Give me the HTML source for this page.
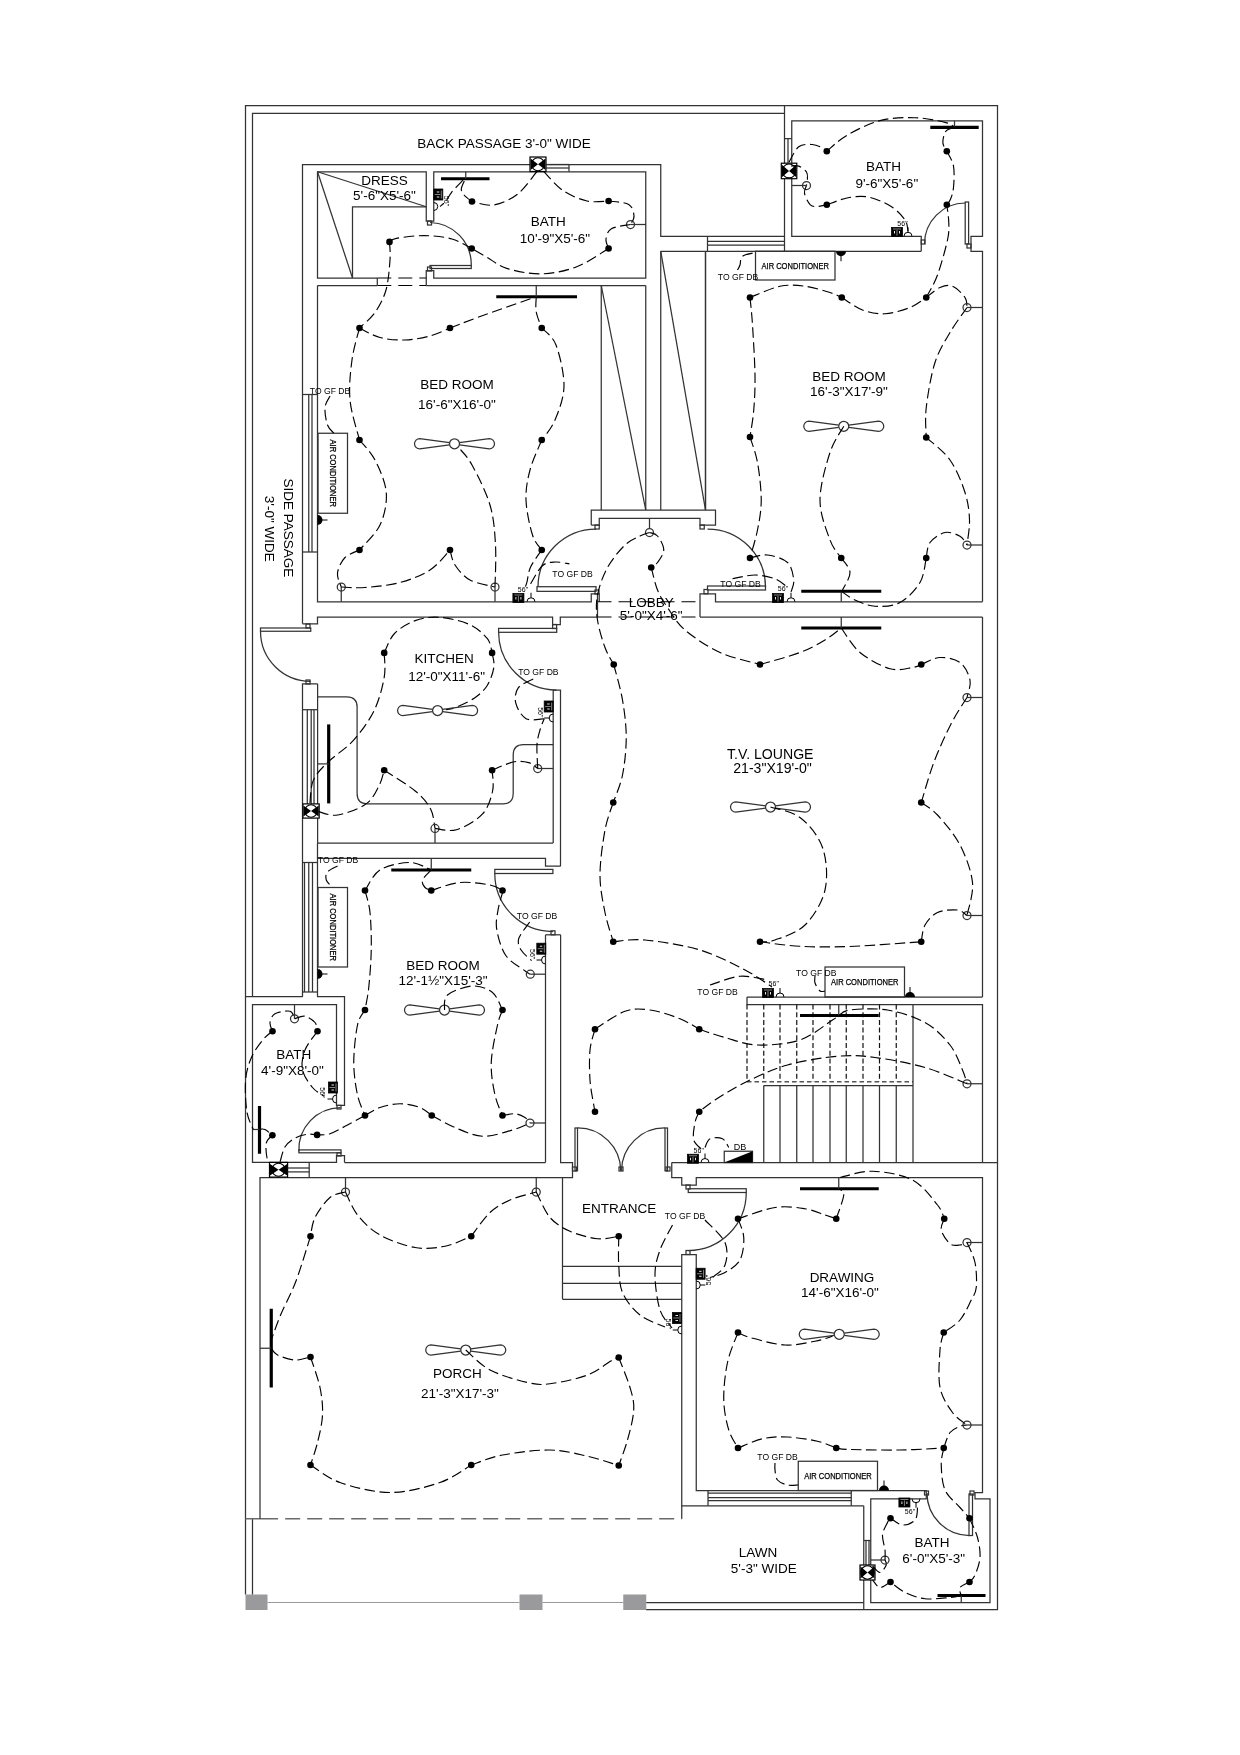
<!DOCTYPE html>
<html><head><meta charset="utf-8"><style>
html,body{margin:0;padding:0;background:#fff;}
svg{display:block;will-change:transform;}
.w{fill:none;stroke:#333;stroke-width:1.25;}
.wf{fill:#fff;stroke:#333;stroke-width:1.25;}
.thin{fill:none;stroke:#000;stroke-width:0.7;}
.g{fill:none;stroke:#9a9a9a;stroke-width:1.1;}
.gd{fill:none;stroke:#6a6a6a;stroke-width:1.4;stroke-dasharray:15 7;}
.dash{fill:none;stroke:#000;stroke-width:1.15;stroke-dasharray:10.5 4.5;}
.od{fill:none;stroke:#000;stroke-width:1.1;stroke-dasharray:14 7;}
.sd{fill:none;stroke:#111;stroke-width:1.2;stroke-dasharray:5 2.7;}
.sdg{fill:none;stroke:#555;stroke-width:1.4;stroke-dasharray:4.5 3;}
.gd0{fill:none;stroke:#6a6a6a;stroke-width:1.4;}
.bar{stroke:#000;stroke-width:3.2;}
.dot{fill:#000;stroke:none;}
.gs{fill:#9a9a9c;stroke:none;}
text{font-family:"Liberation Sans",sans-serif;fill:#000;}
</style></head><body>
<svg width="1240" height="1755" viewBox="0 0 1240 1755">
<rect x="0" y="0" width="1240" height="1755" fill="#fff"/>
<path d="M245.5,1594.5 L245.5,105.5 L997.5,105.5 L997.5,1609.5 L646,1609.5" class="w"/>
<path d="M252.5,997 L252.5,113.25 L784.5,113.25" class="w"/>
<line x1="784.5" y1="105.5" x2="784.5" y2="251.25" class="w"/>
<rect x="245.5" y="1594.5" width="22.0" height="15.5" class="gs"/>
<rect x="519.5" y="1594.5" width="23.0" height="15.5" class="gs"/>
<rect x="623.25" y="1594.5" width="23.0" height="15.5" class="gs"/>
<line x1="267.5" y1="1602.5" x2="519.5" y2="1602.5" class="g"/>
<line x1="542.5" y1="1602.5" x2="623.25" y2="1602.5" class="g"/>
<line x1="646.25" y1="1602.5" x2="863.75" y2="1602.5" class="w"/>
<line x1="252.5" y1="1518.75" x2="252.5" y2="1594.5" class="w"/>
<line x1="245.5" y1="1518.75" x2="278" y2="1518.75" class="gd0"/>
<line x1="285.2" y1="1518.75" x2="681.75" y2="1518.75" class="gd"/>
<path d="M302.5,623.75 L302.5,164.5 L660.75,164.5 L660.75,236.25 L784.5,236.25" class="w"/>
<line x1="707.5" y1="241.25" x2="784.5" y2="241.25" class="w"/>
<line x1="707.5" y1="245" x2="784.5" y2="245" class="w"/>
<line x1="707.5" y1="236.25" x2="707.5" y2="251.25" class="w"/>
<line x1="660.75" y1="251.25" x2="921.25" y2="251.25" class="w"/>
<path d="M377.3,278 L317.5,278 L317.5,171.75 L426.25,171.75 L426.25,221 L433.75,221 L433.75,171.75 L645.75,171.75 L645.75,278 L433.75,278 L433.75,270.5 L426.25,270.5 L426.25,285.5" class="w"/>
<line x1="377.3" y1="278" x2="426.25" y2="278" class="od"/>
<line x1="377.3" y1="285.5" x2="426.25" y2="285.5" class="od"/>
<line x1="317.5" y1="171.75" x2="352.5" y2="278" class="w"/>
<line x1="317.5" y1="171.75" x2="426.25" y2="206.75" class="w"/>
<path d="M426.25,206.75 L352.5,206.75 L352.5,278" class="w"/>
<rect x="430" y="265.5" width="41.25" height="3.0" class="w"/>
<path d="M430,222.5 A42,42 0 0 1 471.25,265.5" class="w"/>
<rect x="427.5" y="221" width="4.0" height="4" class="w"/>
<rect x="427.5" y="267" width="4.0" height="4" class="w"/>
<line x1="317.5" y1="285.5" x2="377.3" y2="285.5" class="w"/>
<line x1="426.25" y1="285.5" x2="645.75" y2="285.5" class="w"/>
<line x1="377.3" y1="278" x2="377.3" y2="285.5" class="w"/>
<path d="M317.5,285.5 L317.5,601.75 L591.25,601.75 L591.25,593.75 L599.25,593.75 L599.25,601.75" class="w"/>
<line x1="645.75" y1="285.5" x2="645.75" y2="510" class="w"/>
<line x1="601.25" y1="285.5" x2="601.25" y2="510" class="w"/>
<line x1="601.25" y1="285.5" x2="645.75" y2="510" class="w"/>
<line x1="302.5" y1="394.5" x2="317.5" y2="394.5" class="w"/>
<line x1="302.5" y1="552" x2="317.5" y2="552" class="w"/>
<line x1="308.75" y1="394.5" x2="308.75" y2="552" class="w"/>
<line x1="312" y1="394.5" x2="312" y2="552" class="w"/>
<rect x="318" y="433.25" width="29.5" height="80.0" class="w"/>
<line x1="660.75" y1="251.25" x2="660.75" y2="510" class="w"/>
<line x1="705.5" y1="251.25" x2="705.5" y2="510" class="w"/>
<line x1="660.75" y1="251.25" x2="705.5" y2="510" class="w"/>
<path d="M591.25,525 L591.25,510 L715.5,510 L715.5,525 L700,525 L700,518.25 L599.25,518.25 L599.25,525 L591.25,525" class="w"/>
<rect x="595" y="525" width="4.25" height="4" class="w"/>
<rect x="700" y="525" width="4.25" height="4" class="w"/>
<line x1="649.5" y1="518.25" x2="649.5" y2="528.5" class="w"/>
<circle cx="649.5" cy="532.5" r="4" class="w"/>
<rect x="537" y="586.7" width="59" height="4.649999999999977" class="w"/>
<path d="M596,529 A58,58 0 0 0 538,587" class="w"/>
<rect x="707.5" y="586" width="58.0" height="4" class="w"/>
<path d="M707.5,529 A58,58 0 0 1 765.5,587" class="w"/>
<line x1="597.5" y1="601.75" x2="700" y2="601.75" class="od"/>
<line x1="597.5" y1="617" x2="700" y2="617" class="od"/>
<line x1="597.5" y1="593.75" x2="597.5" y2="617" class="w"/>
<path d="M700,617 L700,593.75 L715.5,593.75 L715.5,601.75 L982.5,601.75" class="w"/>
<rect x="595" y="590" width="4" height="4" class="w"/>
<rect x="704" y="589.5" width="4" height="4.25" class="w"/>
<text x="651.25" y="607" font-size="13.5" text-anchor="middle" class="t" >LOBBY</text>
<text x="651.25" y="619.5" font-size="13.5" text-anchor="middle" class="t" >5'-0&quot;X4'-6&quot;</text>
<line x1="705.5" y1="251.25" x2="705.5" y2="510" class="w"/>
<path d="M921.25,251.25 L921.25,236.25 L791.75,236.25 L791.75,120.75 L982.5,120.75 L982.5,236.25 L971,236.25 L971,251.25 L982.5,251.25 L982.5,601.75" class="w"/>
<rect x="755.5" y="251.25" width="79.5" height="28.75" class="w"/>
<rect x="965.2" y="202" width="3.3999999999999773" height="42" class="w"/>
<path d="M924.5,244 A41,41 0 0 1 965.2,203" class="w"/>
<rect x="921.25" y="240" width="3.75" height="4" class="w"/>
<rect x="967" y="244" width="4" height="4" class="w"/>
<line x1="784.5" y1="138.6" x2="791.75" y2="138.6" class="w"/>
<line x1="788" y1="138.6" x2="788" y2="163.2" class="w"/>
<rect x="781.3" y="163.2" width="15.5" height="15.5" fill="#fff" stroke="#000" stroke-width="1.2"/>
<ellipse cx="789.05" cy="170.95" rx="6.95" ry="6.95" fill="none" stroke="#000" stroke-width="1.1"/>
<path d="M781.8,164.7 L789.05,170.95 L781.8,177.2 Z M796.3,164.7 L789.05,170.95 L796.3,177.2 Z" fill="#000"/>
<line x1="930.3" y1="127.4" x2="978.7" y2="127.4" class="bar"/>
<line x1="954.5" y1="120.75" x2="954.5" y2="127.4" class="w"/>
<line x1="700" y1="617" x2="982.5" y2="617" class="w"/>
<line x1="982.5" y1="617" x2="982.5" y2="997" class="w"/>
<path d="M560.5,694 L560.5,866.2" class="w"/>
<line x1="560.6" y1="934.8" x2="560.6" y2="1162.5" class="w"/>
<rect x="825" y="967" width="79.5" height="30" class="w"/>
<line x1="747" y1="997" x2="982.5" y2="997" class="w"/>
<path d="M747,997 L747,1004.5 L982.5,1004.5 L982.5,1162.5" class="w"/>
<line x1="747" y1="1004.5" x2="747" y2="1081.75" class="sd"/>
<line x1="763.75" y1="1004.5" x2="763.75" y2="1081.75" class="sd"/>
<line x1="780" y1="1004.5" x2="780" y2="1081.75" class="sd"/>
<line x1="796.75" y1="1004.5" x2="796.75" y2="1081.75" class="sd"/>
<line x1="813" y1="1004.5" x2="813" y2="1081.75" class="sd"/>
<line x1="830" y1="1004.5" x2="830" y2="1081.75" class="sd"/>
<line x1="846.25" y1="1004.5" x2="846.25" y2="1081.75" class="sd"/>
<line x1="863" y1="1004.5" x2="863" y2="1081.75" class="sd"/>
<line x1="879.5" y1="1004.5" x2="879.5" y2="1081.75" class="sd"/>
<line x1="896.25" y1="1004.5" x2="896.25" y2="1081.75" class="sd"/>
<line x1="747" y1="1081.75" x2="913" y2="1081.75" class="sdg"/>
<line x1="913" y1="1004.5" x2="913" y2="1162.5" class="w"/>
<line x1="763.75" y1="1085.5" x2="913" y2="1085.5" class="w"/>
<line x1="763.75" y1="1085.5" x2="763.75" y2="1162.5" class="w"/>
<line x1="780" y1="1085.5" x2="780" y2="1162.5" class="w"/>
<line x1="796.75" y1="1085.5" x2="796.75" y2="1162.5" class="w"/>
<line x1="813" y1="1085.5" x2="813" y2="1162.5" class="w"/>
<line x1="830" y1="1085.5" x2="830" y2="1162.5" class="w"/>
<line x1="846.25" y1="1085.5" x2="846.25" y2="1162.5" class="w"/>
<line x1="863" y1="1085.5" x2="863" y2="1162.5" class="w"/>
<line x1="879.5" y1="1085.5" x2="879.5" y2="1162.5" class="w"/>
<line x1="896.25" y1="1085.5" x2="896.25" y2="1162.5" class="w"/>
<line x1="671.75" y1="1162.5" x2="997.5" y2="1162.5" class="w"/>
<rect x="724.25" y="1151.25" width="28.25" height="11.25" class="w"/>
<path d="M724.25,1162.5 L752.5,1151.25 L752.5,1162.5 Z" class="dot"/>
<text x="740" y="1150" font-size="9" text-anchor="middle" class="t" >DB</text>
<line x1="800" y1="1015.5" x2="878.75" y2="1015.5" class="bar"/>
<line x1="838.75" y1="1004.5" x2="838.75" y2="1015.5" class="w"/>
<path d="M560,1162.5 L572.5,1162.5 L572.5,1170.75" class="w"/>
<path d="M260,1518.75 L260,1177.5 L572.5,1177.5 L572.5,1170.75" class="w"/>
<rect x="575" y="1128" width="2.5" height="42.75" class="w"/>
<path d="M577.5,1128 A43,43 0 0 1 620.75,1170.75" class="w"/>
<rect x="665" y="1128" width="2.5" height="42.75" class="w"/>
<path d="M665,1128 A43,43 0 0 0 621.5,1170.75" class="w"/>
<rect x="572.5" y="1167" width="4.0" height="4" class="w"/>
<rect x="666" y="1167" width="4" height="4" class="w"/>
<rect x="619" y="1167" width="4" height="4" class="w"/>
<path d="M671.75,1162.5 L671.75,1177.5 L681.75,1177.5 L681.75,1185 L696.25,1185 L696.25,1177.5 L982.5,1177.5 L982.5,1492.5 L975,1492.5 L975,1498.75 L990,1498.75 L990,1602.5 L870.75,1602.5 L870.75,1498.75 L926.25,1498.75 L926.25,1490.5 L696.25,1490.5 L696.25,1254.5 L681.75,1254.5 L681.75,1518.75" class="w"/>
<rect x="688.25" y="1188.75" width="58.0" height="3.75" class="w"/>
<path d="M746.25,1192.5 A58,58 0 0 1 688.25,1250.5" class="w"/>
<rect x="686" y="1185" width="4" height="4" class="w"/>
<rect x="686" y="1250.5" width="4" height="4.0" class="w"/>
<text x="619.25" y="1213" font-size="13.5" text-anchor="middle" class="t" >ENTRANCE</text>
<line x1="562.5" y1="1177.5" x2="562.5" y2="1299.25" class="w"/>
<line x1="562.5" y1="1266.25" x2="681.75" y2="1266.25" class="w"/>
<line x1="562.5" y1="1283.25" x2="681.75" y2="1283.25" class="w"/>
<line x1="562.5" y1="1299.25" x2="681.75" y2="1299.25" class="w"/>
<line x1="800" y1="1188.75" x2="878.75" y2="1188.75" class="bar"/>
<line x1="838.75" y1="1177.5" x2="838.75" y2="1188.75" class="w"/>
<line x1="708" y1="1493" x2="851.25" y2="1493" class="w"/>
<line x1="708" y1="1497.5" x2="851.25" y2="1497.5" class="w"/>
<line x1="708" y1="1500.5" x2="851.25" y2="1500.5" class="w"/>
<line x1="708" y1="1490.5" x2="708" y2="1505.75" class="w"/>
<line x1="851.25" y1="1490.5" x2="851.25" y2="1505.75" class="w"/>
<line x1="681.75" y1="1505.75" x2="863.75" y2="1505.75" class="w"/>
<line x1="863.75" y1="1505.75" x2="863.75" y2="1609.5" class="w"/>
<rect x="798.25" y="1461.25" width="79.25" height="29.25" class="w"/>
<text x="842" y="1282" font-size="13.5" text-anchor="middle" class="t" >DRAWING</text>
<text x="840" y="1297" font-size="13.5" text-anchor="middle" class="t" >14'-6&quot;X16'-0&quot;</text>
<rect x="969" y="1494" width="3.5" height="41.5" class="w"/>
<path d="M927,1493 A42.5,42.5 0 0 0 969.5,1535.5" class="w"/>
<rect x="924.5" y="1491" width="4.0" height="4" class="w"/>
<rect x="970" y="1491" width="4" height="4" class="w"/>
<line x1="866" y1="1540.5" x2="866" y2="1565" class="w"/>
<line x1="869" y1="1540.5" x2="869" y2="1565" class="w"/>
<line x1="863.75" y1="1540.5" x2="870.75" y2="1540.5" class="w"/>
<rect x="860" y="1565" width="15" height="15" fill="#fff" stroke="#000" stroke-width="1.2"/>
<ellipse cx="867.5" cy="1572.5" rx="6.7" ry="6.7" fill="none" stroke="#000" stroke-width="1.1"/>
<path d="M860.5,1566.5 L867.5,1572.5 L860.5,1578.5 Z M874.5,1566.5 L867.5,1572.5 L874.5,1578.5 Z" fill="#000"/>
<line x1="937.5" y1="1595.5" x2="985.5" y2="1595.5" class="bar"/>
<line x1="961.25" y1="1595.5" x2="961.25" y2="1602.5" class="w"/>
<text x="932" y="1547" font-size="13.5" text-anchor="middle" class="t" >BATH</text>
<text x="933.75" y="1562.5" font-size="13.5" text-anchor="middle" class="t" >6'-0&quot;X5'-3&quot;</text>
<line x1="271.25" y1="1308.75" x2="271.25" y2="1387.5" class="bar"/>
<line x1="260" y1="1348.25" x2="271.25" y2="1348.25" class="w"/>
<text x="457.5" y="1378" font-size="13.5" text-anchor="middle" class="t" >PORCH</text>
<text x="460" y="1398" font-size="13.5" text-anchor="middle" class="t" >21'-3&quot;X17'-3&quot;</text>
<text x="758" y="1557" font-size="13.5" text-anchor="middle" class="t" >LAWN</text>
<text x="763.75" y="1573" font-size="13.5" text-anchor="middle" class="t" >5'-3&quot; WIDE</text>
<path d="M302.5,996.7 L302.5,683.75 L317.5,683.75" class="w"/>
<path d="M302.5,623.75 L317.5,623.75 L317.5,617 L552.6,617 L552.6,624.5 L560.3,624.5 L560.3,617 L597.5,617" class="w"/>
<rect x="260.5" y="628" width="50.25" height="3.25" class="w"/>
<path d="M260.5,631.25 A50,50 0 0 0 310.75,681.25" class="w"/>
<rect x="306" y="624" width="4" height="4" class="w"/>
<rect x="306" y="680" width="4" height="4" class="w"/>
<line x1="317.6" y1="683.75" x2="317.6" y2="843.1" class="w"/>
<path d="M317.6,696.8 H346.8 Q357.1,696.8 357.1,707 V793.6 Q357.1,803.9 367.4,803.9 H503 Q513.2,803.9 513.2,793.6 V754.8 Q513.2,744.5 523.5,744.5 H553.2" class="w"/>
<line x1="317.6" y1="843.1" x2="553.2" y2="843.1" class="w"/>
<line x1="553.2" y1="694" x2="553.2" y2="843.1" class="w"/>
<path d="M553.2,694 L553.2,690 L560.5,690 L560.5,694" class="w"/>
<rect x="498.6" y="628.4" width="58.10000000000002" height="3.8999999999999773" class="w"/>
<path d="M498.6,632 A58,58 0 0 0 556.5,690" class="w"/>
<rect x="552.6" y="624.5" width="4.0" height="4.0" class="w"/>
<line x1="328.7" y1="724.4" x2="328.7" y2="803.4" class="bar"/>
<line x1="317.6" y1="763.9" x2="328.7" y2="763.9" class="w"/>
<line x1="307.3" y1="709.7" x2="307.3" y2="803.9" class="w"/>
<line x1="311.2" y1="709.7" x2="311.2" y2="803.9" class="w"/>
<line x1="314" y1="709.7" x2="314" y2="803.9" class="w"/>
<line x1="302.5" y1="709.7" x2="317.6" y2="709.7" class="w"/>
<rect x="302.9" y="803.9" width="16.30000000000001" height="14.200000000000045" fill="#fff" stroke="#000" stroke-width="1.2"/>
<ellipse cx="311.04999999999995" cy="811.0" rx="6.300000000000023" ry="6.300000000000023" fill="none" stroke="#000" stroke-width="1.1"/>
<path d="M303.4,805.4 L311.04999999999995,811.0 L303.4,816.6 Z M318.7,805.4 L311.04999999999995,811.0 L318.7,816.6 Z" fill="#000"/>
<text x="444.1" y="663" font-size="13.5" text-anchor="middle" class="t" >KITCHEN</text>
<text x="446.6" y="681" font-size="13.5" text-anchor="middle" class="t" >12'-0&quot;X11'-6&quot;</text>
<path d="M317.5,843.1 L317.5,858.25" class="w"/>
<path d="M317.5,996.7 L317.5,858.25 L545.5,858.25 L545.5,866.2 L560.6,866.2" class="w"/>
<line x1="302.5" y1="862.5" x2="317.5" y2="862.5" class="w"/>
<line x1="302.5" y1="992" x2="317.5" y2="992" class="w"/>
<line x1="304.5" y1="862.5" x2="304.5" y2="992" class="w"/>
<line x1="308.75" y1="862.5" x2="308.75" y2="992" class="w"/>
<line x1="312.5" y1="862.5" x2="312.5" y2="992" class="w"/>
<rect x="318" y="887.5" width="29.5" height="79.5" class="w"/>
<rect x="494.8" y="869.4" width="58.099999999999966" height="4.100000000000023" class="w"/>
<path d="M494.8,873.5 A58,58 0 0 0 552.9,931.5" class="w"/>
<rect x="551" y="930.8" width="4" height="4.0" class="w"/>
<line x1="545.5" y1="934.8" x2="560.6" y2="934.8" class="w"/>
<line x1="545.5" y1="934.8" x2="545.5" y2="1162.5" class="w"/>
<line x1="344.5" y1="1162.5" x2="545.5" y2="1162.5" class="w"/>
<line x1="391.25" y1="870" x2="471.25" y2="870" class="bar"/>
<line x1="431.25" y1="858.25" x2="431.25" y2="870" class="w"/>
<text x="443" y="970" font-size="13.5" text-anchor="middle" class="t" >BED ROOM</text>
<text x="443" y="985" font-size="13.5" text-anchor="middle" class="t" >12'-1½&quot;X15'-3&quot;</text>
<path d="M245.5,996.7 L302.7,996.7" class="w"/>
<path d="M317.1,996.7 L344.5,996.7 L344.5,1105.4 L336.5,1105.4 L336.5,1004.7 L252.5,1004.7 L252.5,1162.4 L336.5,1162.4 L336.5,1155.5 L344.5,1155.5 L344.5,1162.4" class="w"/>
<rect x="298.9" y="1149.9" width="42.10000000000002" height="2.8999999999998636" class="w"/>
<path d="M340.3,1107.6 A42,42 0 0 0 298.9,1151.2" class="w"/>
<rect x="337" y="1105.4" width="4" height="3.599999999999909" class="w"/>
<rect x="337" y="1152.8" width="4" height="3.2000000000000455" class="w"/>
<rect x="269.5" y="1162.4" width="18.100000000000023" height="14.699999999999818" fill="#fff" stroke="#000" stroke-width="1.2"/>
<ellipse cx="278.55" cy="1169.75" rx="6.549999999999909" ry="6.549999999999909" fill="none" stroke="#000" stroke-width="1.1"/>
<path d="M270.0,1163.9 L278.55,1169.75 L270.0,1175.6 Z M287.1,1163.9 L278.55,1169.75 L287.1,1175.6 Z" fill="#000"/>
<line x1="287.6" y1="1168" x2="309.2" y2="1168" class="w"/>
<line x1="287.6" y1="1171.9" x2="309.2" y2="1171.9" class="w"/>
<line x1="309.2" y1="1162.4" x2="309.2" y2="1177.1" class="w"/>
<line x1="259.5" y1="1106" x2="259.5" y2="1153.75" class="bar"/>
<line x1="252.5" y1="1129.5" x2="259.5" y2="1129.5" class="w"/>
<text x="293.75" y="1058.5" font-size="13.5" text-anchor="middle" class="t" >BATH</text>
<text x="292.5" y="1075" font-size="13.5" text-anchor="middle" class="t" >4'-9&quot;X8'-0&quot;</text>
<text x="504" y="148" font-size="13.5" text-anchor="middle" class="t" >BACK PASSAGE 3'-0&quot; WIDE</text>
<text x="384.5" y="185" font-size="13.5" text-anchor="middle" class="t" >DRESS</text>
<text x="384.5" y="200" font-size="13.5" text-anchor="middle" class="t" >5'-6&quot;X5'-6&quot;</text>
<text x="548.3" y="225.5" font-size="13.5" text-anchor="middle" class="t" >BATH</text>
<text x="555" y="242.5" font-size="13.5" text-anchor="middle" class="t" >10'-9&quot;X5'-6&quot;</text>
<text x="457" y="389" font-size="13.5" text-anchor="middle" class="t" >BED ROOM</text>
<text x="457" y="409" font-size="13.5" text-anchor="middle" class="t" >16'-6&quot;X16'-0&quot;</text>
<text x="849" y="381" font-size="13.5" text-anchor="middle" class="t" >BED ROOM</text>
<text x="849" y="395.5" font-size="13.5" text-anchor="middle" class="t" >16'-3&quot;X17'-9&quot;</text>
<text x="883.5" y="171" font-size="13.5" text-anchor="middle" class="t" >BATH</text>
<text x="886.8" y="188" font-size="13.5" text-anchor="middle" class="t" >9'-6&quot;X5'-6&quot;</text>
<text x="770.3" y="759" font-size="14.1" text-anchor="middle" class="t" >T.V. LOUNGE</text>
<text x="772.5" y="773" font-size="14.1" text-anchor="middle" class="t" >21-3&quot;X19'-0&quot;</text>
<text x="289" y="528" font-size="13.5" text-anchor="middle" transform="rotate(90 289 528)" dy="5">SIDE PASSAGE</text>
<text x="270" y="528.75" font-size="13.5" text-anchor="middle" transform="rotate(90 270 528.75)" dy="5">3'-0" WIDE</text>
<rect x="530" y="157" width="16" height="14.5" fill="#fff" stroke="#000" stroke-width="1.2"/>
<ellipse cx="538.0" cy="164.25" rx="6.45" ry="6.45" fill="none" stroke="#000" stroke-width="1.1"/>
<path d="M530.5,158.5 L538.0,164.25 L530.5,170.0 Z M545.5,158.5 L538.0,164.25 L545.5,170.0 Z" fill="#000"/>
<line x1="546" y1="164.5" x2="569" y2="164.5" class="w"/>
<line x1="546" y1="168" x2="569" y2="168" class="w"/>
<line x1="569" y1="164.5" x2="569" y2="171.75" class="w"/>
<path d="M536.9,171.5 C533.7,175.2 525.0,188.4 517.8,194 C510.6,199.6 501.1,203.8 493.5,205 C485.9,206.2 475.6,202.1 472,201.5" class="dash"/>
<path d="M472,201.5 C470.8,200.5 466.3,197.6 464.5,195.5 C462.7,193.4 461.2,191.7 461.3,189 C461.4,186.3 464.4,181.0 465,179.4" class="dash"/>
<line x1="441" y1="178.75" x2="489.5" y2="178.75" class="bar"/>
<line x1="465.75" y1="171.75" x2="465.75" y2="178.75" class="w"/>
<path d="M463,180.2 C461.1,182.2 454.4,188.8 451.6,192.3 C448.8,195.8 447.9,198.6 446,201 C444.1,203.4 441.0,205.6 440,206.5" class="dash"/>
<path d="M543.8,171.5 C547.0,174.7 555.7,185.6 562.9,190.5 C570.1,195.4 579.4,199.2 587,201 C594.6,202.8 605.0,201.0 608.6,201" class="dash"/>
<path d="M608.6,201 C612.0,201.6 624.5,201.9 628.7,204.4 C632.9,206.9 633.7,212.7 634,216 C634.3,219.3 631.1,223.1 630.5,224.5" class="dash"/>
<circle cx="630.5" cy="224.5" r="4" class="w"/>
<line x1="630.5" y1="224.5" x2="646" y2="224.5" class="w"/>
<path d="M630.5,224.5 C627.3,225.2 615.5,226.3 611.4,228.7 C607.3,231.1 606.5,235.7 606,239 C605.5,242.3 608.2,246.9 608.6,248.5" class="dash"/>
<path d="M608.6,248.5 C603.3,251.6 587.8,262.6 576.7,266.8 C565.6,271.0 553.5,273.5 542,273.8 C530.5,274.1 516.6,271.4 507.4,268.6 C498.2,265.8 492.6,260.4 486.6,257 C480.7,253.7 474.2,249.9 471.7,248.5" class="dash"/>
<path d="M471.7,248.5 C468.4,246.9 459.9,241.2 452,239 C444.1,236.8 433.3,235.7 424,235.6 C414.7,235.5 402.1,237.3 396.4,238.4 C390.6,239.5 390.6,241.3 389.5,241.9" class="dash"/>
<path d="M389.5,241.9 C389.6,244.9 390.6,252.0 390,260 C389.4,268.0 388.5,281.2 386,290 C383.5,298.8 379.4,306.2 375,312.5 C370.6,318.8 362.1,325.4 359.5,328" class="dash"/>
<circle cx="472" cy="201.5" r="3.3" class="dot"/>
<circle cx="608.6" cy="201" r="3.3" class="dot"/>
<circle cx="608.6" cy="248.5" r="3.3" class="dot"/>
<circle cx="471.7" cy="248.5" r="3.3" class="dot"/>
<circle cx="389.5" cy="241.9" r="3.3" class="dot"/>
<path d="M359.5,328 C362.9,329.6 372.4,335.5 380,337.5 C387.6,339.5 396.7,340.2 405,340 C413.3,339.8 422.5,338.0 430,336 C437.5,334.0 446.7,329.3 450,328" class="dash"/>
<path d="M450,328 C454.6,326.2 463.1,322.7 477.5,317.5 C491.9,312.3 526.5,300.2 536.25,296.75" class="dash"/>
<line x1="496.25" y1="296.75" x2="577" y2="296.75" class="bar"/>
<line x1="536.25" y1="285.5" x2="536.25" y2="296.75" class="w"/>
<path d="M536.25,296.75 C536.2,299.3 535.3,306.8 536.25,312 C537.2,317.2 540.8,325.3 541.75,328" class="dash"/>
<path d="M541.75,328 C544.1,330.8 552.3,335.3 556,345 C559.7,354.7 564.2,373.5 564,386 C563.8,398.5 558.7,411.0 555,420 C551.3,429.0 544.0,436.7 541.75,440" class="dash"/>
<path d="M359.5,328 C358.2,333.3 353.6,348.0 352,360 C350.4,372.0 348.8,386.7 350,400 C351.2,413.3 357.9,433.3 359.5,440" class="dash"/>
<path d="M330,396 C329.2,397.9 325.4,402.7 325,407.5 C324.6,412.3 326.0,420.7 327.5,425 C329.0,429.3 332.9,431.9 334,433.25" class="dash"/>
<path d="M359.5,440 C362.1,443.3 370.5,451.2 375,460 C379.5,468.8 385.4,481.7 386.25,492.5 C387.1,503.3 384.5,515.4 380,525 C375.5,534.6 362.9,545.8 359.5,550" class="dash"/>
<path d="M359.5,550 C357.1,551.2 348.7,553.7 345,557.5 C341.3,561.3 338.1,568.1 337.5,573 C336.9,577.9 340.6,584.7 341.25,587" class="dash"/>
<circle cx="341.25" cy="587" r="4" class="w"/>
<line x1="341.25" y1="587" x2="341.25" y2="601.75" class="w"/>
<path d="M341.25,587 C345.2,587.1 355.2,588.2 365,587.5 C374.8,586.8 389.2,585.4 400,582.5 C410.8,579.6 421.7,575.4 430,570 C438.3,564.6 446.7,553.3 450,550" class="dash"/>
<path d="M450,550 C450.8,552.5 451.7,560.0 455,565 C458.3,570.0 463.3,576.3 470,580 C476.7,583.7 490.8,585.8 495,587" class="dash"/>
<circle cx="495" cy="587" r="4" class="w"/>
<line x1="495" y1="587" x2="495" y2="601.75" class="w"/>
<path d="M495,587 C495.1,580.0 496.3,558.7 495.5,545 C494.7,531.3 493.9,518.3 490,505 C486.1,491.7 477.2,474.5 472,465 C466.8,455.5 461.2,450.8 459,448" class="dash"/>
<path d="M541.75,440 C539.8,445.0 532.6,460.0 530,470 C527.4,480.0 525.6,489.2 526,500 C526.4,510.8 529.9,526.7 532.5,535 C535.1,543.3 540.2,547.5 541.75,550" class="dash"/>
<path d="M541.75,550 C539.9,552.8 533.1,561.6 530.6,567 C528.1,572.4 527.9,578.8 526.8,582.6 C525.7,586.4 524.5,588.8 524,590" class="dash"/>
<path d="M530.6,583.9 C532.5,580.9 538.2,569.4 542.3,565.8 C546.4,562.1 550.7,562.3 555.2,562 C559.7,561.7 567.0,563.6 569.4,563.9" class="dash"/>
<circle cx="359.5" cy="328" r="3.3" class="dot"/>
<circle cx="450" cy="328" r="3.3" class="dot"/>
<circle cx="541.75" cy="328" r="3.3" class="dot"/>
<circle cx="359.5" cy="440" r="3.3" class="dot"/>
<circle cx="541.75" cy="440" r="3.3" class="dot"/>
<circle cx="359.5" cy="550" r="3.3" class="dot"/>
<circle cx="450" cy="550" r="3.3" class="dot"/>
<circle cx="541.75" cy="550" r="3.3" class="dot"/>
<path d="M449.5,442.55 L419.7,438.55 A5.2,5.2 0 0 0 419.7,448.95 L449.5,444.95" class="w"/>
<path d="M459.5,442.55 L489.3,438.55 A5.2,5.2 0 0 1 489.3,448.95 L459.5,444.95" class="w"/>
<circle cx="454.5" cy="443.75" r="5" class="wf"/>
<path d="M649.5,532.5 C647.9,533.1 644.1,533.9 640,536 C635.9,538.1 630.4,539.8 625,545 C619.6,550.2 612.1,559.2 607.5,567.5 C602.9,575.8 599.2,586.2 597.5,595 C595.8,603.8 596.2,611.2 597.5,620 C598.8,628.8 602.3,640.1 605,647.5 C607.7,654.9 612.3,661.7 613.75,664.5" class="dash"/>
<path d="M649.5,532.5 C650.8,533.1 655.1,533.1 657.5,536 C659.9,538.9 663.8,545.6 663.75,550 C663.8,554.4 659.6,559.6 657.5,562.5 C655.4,565.4 652.3,566.7 651.25,567.5" class="dash"/>
<path d="M651.25,567.5 C652.3,571.2 654.8,583.3 657.5,590 C660.2,596.7 662.9,600.8 667.5,607.5 C672.1,614.2 676.2,622.5 685,630 C693.8,637.5 707.5,646.8 720,652.5 C732.5,658.2 753.3,662.5 760,664.5" class="dash"/>
<path d="M760,664.5 C766.7,662.5 789.2,656.6 800,652.5 C810.8,648.4 818.1,644.1 825,640 C831.9,635.9 838.5,630.0 841.25,628" class="dash"/>
<line x1="801.25" y1="628" x2="881.25" y2="628" class="bar"/>
<line x1="841.25" y1="617" x2="841.25" y2="628" class="w"/>
<path d="M841.25,628 C844.4,632.1 851.9,645.7 860,652.5 C868.1,659.3 881.2,666.2 890,668.75 C898.8,671.2 907.3,668.2 912.5,667.5 C917.7,666.8 919.8,665.0 921.25,664.5" class="dash"/>
<path d="M921.25,664.5 C924.4,663.3 933.5,657.8 940,657.5 C946.5,657.2 955.0,658.8 960,662.5 C965.0,666.2 968.8,674.2 970,680 C971.2,685.8 967.5,694.6 967,697.5" class="dash"/>
<circle cx="967" cy="697.5" r="4" class="w"/>
<line x1="967" y1="697.5" x2="982.5" y2="697.5" class="w"/>
<path d="M967,697.5 C964.3,701.9 956.5,713.2 951,724 C945.5,734.8 939.0,748.9 934,762 C929.0,775.1 923.4,795.8 921.25,802.5" class="dash"/>
<path d="M921.25,802.5 C924.0,804.6 931.0,807.9 937.5,815 C944.0,822.1 954.2,833.8 960,845 C965.8,856.2 971.3,870.8 972.5,882.5 C973.7,894.2 967.9,910.0 967,915.5" class="dash"/>
<circle cx="967" cy="915.5" r="4" class="w"/>
<line x1="967" y1="915.5" x2="982.5" y2="915.5" class="w"/>
<path d="M921.25,941.75 C921.9,939.0 922.3,929.9 925,925 C927.7,920.1 932.1,915.0 937.5,912.5 C942.9,910.0 952.6,909.5 957.5,910 C962.4,910.5 965.4,914.6 967,915.5" class="dash"/>
<path d="M613.75,664.5 C615.2,670.4 620.4,687.8 622.5,700 C624.6,712.2 626.2,725.0 626.25,737.5 C626.2,750.0 624.7,764.2 622.5,775 C620.3,785.8 614.8,797.9 613.25,802.5" class="dash"/>
<path d="M613.25,802.5 C611.9,807.1 607.2,817.9 605,830 C602.8,842.1 600.0,861.2 600,875 C600.0,888.8 602.8,901.4 605,912.5 C607.2,923.6 611.9,936.9 613.25,941.75" class="dash"/>
<path d="M613.25,941.75 C618.5,941.5 630.5,938.6 645,940 C659.5,941.4 683.3,945.0 700,950 C716.7,955.0 733.0,963.8 745,970 C757.0,976.2 767.5,984.2 772,987" class="dash"/>
<path d="M710,985 C715.0,983.5 730.4,977.1 740,976.25 C749.6,975.4 762.9,979.4 767.5,980" class="dash"/>
<path d="M765.5,805.8 L735.7,801.8 A5.2,5.2 0 0 0 735.7,812.2 L765.5,808.2" class="w"/>
<path d="M775.5,805.8 L805.3,801.8 A5.2,5.2 0 0 1 805.3,812.2 L775.5,808.2" class="w"/>
<circle cx="770.5" cy="807" r="5" class="wf"/>
<path d="M770.5,807 C775.4,808.8 791.3,810.8 800,817.5 C808.7,824.2 818.3,835.4 822.5,847.5 C826.7,859.6 827.9,877.1 825,890 C822.1,902.9 813.3,916.7 805,925 C796.7,933.3 782.5,937.2 775,940 C767.5,942.8 762.5,941.5 760,941.75" class="dash"/>
<path d="M760,941.75 C766.7,942.5 785.0,945.5 800,946.25 C815.0,947.0 829.8,947.2 850,946.5 C870.2,945.8 909.4,942.5 921.25,941.75" class="dash"/>
<path d="M815,976 C815.0,977.2 814.2,980.5 815,983 C815.8,985.5 818.3,989.7 820,991 C821.7,992.3 824.2,991.0 825,991" class="dash"/>
<circle cx="613.75" cy="664.5" r="3.3" class="dot"/>
<circle cx="651.25" cy="567.5" r="3.3" class="dot"/>
<circle cx="760" cy="664.5" r="3.3" class="dot"/>
<circle cx="921.25" cy="664.5" r="3.3" class="dot"/>
<circle cx="921.25" cy="802.5" r="3.3" class="dot"/>
<circle cx="613.25" cy="802.5" r="3.3" class="dot"/>
<circle cx="613.25" cy="941.75" r="3.3" class="dot"/>
<circle cx="760" cy="941.75" r="3.3" class="dot"/>
<circle cx="921.25" cy="941.75" r="3.3" class="dot"/>
<path d="M737.5,270 C737.9,269.2 739.2,267.3 740,265 C740.8,262.7 739.9,258.3 742.5,256.25 C745.1,254.2 753.3,253.1 755.5,252.5" class="dash"/>
<path d="M750,297.5 C755.0,295.6 770.8,288.1 780,286.25 C789.2,284.4 796.7,285.2 805,286.25 C813.3,287.3 823.9,290.6 830,292.5 C836.1,294.4 839.8,296.7 841.75,297.5" class="dash"/>
<path d="M841.75,297.5 C845.2,299.6 855.3,307.3 862.5,310 C869.7,312.7 877.1,314.2 885,313.75 C892.9,313.3 903.1,310.2 910,307.5 C916.9,304.8 923.5,299.2 926.25,297.5" class="dash"/>
<path d="M926.25,297.5 C928.5,295.8 935.6,289.4 940,287.5 C944.4,285.6 948.3,284.6 952.5,286.25 C956.7,287.9 962.6,294.0 965,297.5 C967.4,301.0 966.7,305.8 967,307.5" class="dash"/>
<circle cx="967" cy="307.5" r="4" class="w"/>
<line x1="967" y1="307.5" x2="982.5" y2="307.5" class="w"/>
<path d="M926.25,297.5 C928.1,293.8 934.0,284.6 937.5,275 C941.0,265.4 945.6,248.8 947.5,240 C949.4,231.2 948.9,227.9 948.75,222 C948.6,216.1 947.1,207.7 946.8,204.8" class="dash"/>
<path d="M967,307.5 C964.2,311.7 955.3,323.3 950,332.5 C944.7,341.7 939.0,350.0 935,362.5 C931.0,375.0 927.7,395.0 926.25,407.5 C924.8,420.0 926.2,432.5 926.25,437.5" class="dash"/>
<path d="M750,297.5 C750.4,302.1 751.7,312.1 752.5,325 C753.3,337.9 754.8,360.8 755,375 C755.2,389.2 754.6,399.7 753.75,410 C752.9,420.3 750.6,432.5 750,437" class="dash"/>
<path d="M750,437 C751.2,441.2 755.6,452.0 757.5,462.5 C759.4,473.0 761.2,488.8 761.25,500 C761.2,511.2 759.4,520.3 757.5,530 C755.6,539.7 751.2,553.3 750,558" class="dash"/>
<path d="M750,558 C752.9,557.5 761.2,554.2 767.5,555 C773.8,555.8 783.1,558.3 787.5,562.5 C791.9,566.7 793.2,575.1 793.75,580 C794.3,584.9 791.5,590.0 791,592" class="dash"/>
<path d="M732.5,578.75 C736.2,578.1 747.9,575.0 755,575 C762.1,575.0 769.8,576.9 775,578.75 C780.2,580.6 784.4,585.0 786.25,586.25" class="dash"/>
<path d="M838.75,425.05 L808.95,421.05 A5.2,5.2 0 0 0 808.95,431.45 L838.75,427.45" class="w"/>
<path d="M848.75,425.05 L878.55,421.05 A5.2,5.2 0 0 1 878.55,431.45 L848.75,427.45" class="w"/>
<circle cx="843.75" cy="426.25" r="5" class="wf"/>
<path d="M843.75,426.25 C841.5,430.6 834.0,440.2 830,452.5 C826.0,464.8 820.0,485.4 820,500 C820.0,514.6 826.5,530.3 830,540 C833.5,549.7 839.4,555.0 841.25,558" class="dash"/>
<path d="M841.25,558 C842.7,560.4 849.8,567.2 850,572.5 C850.2,577.8 843.8,587.1 842.5,590" class="dash"/>
<line x1="801.25" y1="591.25" x2="881.25" y2="591.25" class="bar"/>
<line x1="841.25" y1="591.25" x2="841.25" y2="601.75" class="w"/>
<path d="M841.25,591.25 C843.5,592.7 849.4,597.5 855,600 C860.6,602.5 867.5,605.8 875,606.25 C882.5,606.7 892.5,606.5 900,602.5 C907.5,598.5 915.6,589.9 920,582.5 C924.4,575.1 925.2,562.1 926.25,558" class="dash"/>
<path d="M926.25,558 C926.9,555.4 926.9,546.8 930,542.5 C933.1,538.2 940.0,533.5 945,532.5 C950.0,531.5 956.3,534.2 960,536.25 C963.7,538.3 965.8,543.5 967,545" class="dash"/>
<circle cx="967" cy="545" r="4" class="w"/>
<line x1="967" y1="545" x2="982.5" y2="545" class="w"/>
<path d="M926.25,437.5 C930.2,441.2 943.5,450.8 950,460 C956.5,469.2 961.8,482.5 965,492.5 C968.2,502.5 969.2,511.2 969.5,520 C969.8,528.8 967.4,540.8 967,545" class="dash"/>
<circle cx="750" cy="297.5" r="3.3" class="dot"/>
<circle cx="841.75" cy="297.5" r="3.3" class="dot"/>
<circle cx="926.25" cy="297.5" r="3.3" class="dot"/>
<circle cx="750" cy="437" r="3.3" class="dot"/>
<circle cx="926.25" cy="437.5" r="3.3" class="dot"/>
<circle cx="750" cy="558" r="3.3" class="dot"/>
<circle cx="841.25" cy="558" r="3.3" class="dot"/>
<circle cx="926.25" cy="558" r="3.3" class="dot"/>
<path d="M789,162.3 C790.6,159.7 794.8,149.8 798.7,146.8 C802.6,143.8 808.4,144.3 812.3,144.5 C816.2,144.7 819.6,146.6 822,147.7 C824.4,148.8 826.0,150.6 826.8,151.2" class="dash"/>
<path d="M826.8,151.2 C830.2,148.5 838.2,140.3 847.1,135.2 C856.0,130.1 868.7,123.5 880,120.6 C891.3,117.7 903.8,117.4 914.8,117.7 C925.8,118.0 939.2,121.0 945.8,122.6 C952.4,124.2 953.0,126.6 954.5,127.4" class="dash"/>
<path d="M954.5,127.4 C953.0,128.1 947.7,128.7 945.8,131.3 C943.9,133.9 942.7,139.6 942.9,142.9 C943.1,146.2 946.1,149.8 946.8,151.2" class="dash"/>
<path d="M946.8,151.2 C947.9,153.7 952.4,160.1 953.5,166.1 C954.6,172.1 954.0,181.9 953.5,187.4 C953.0,192.9 951.7,196.1 950.6,199 C949.5,201.9 947.4,203.8 946.8,204.8" class="dash"/>
<path d="M791,166 C792.3,166.0 796.1,165.1 798.7,166.1 C801.3,167.1 805.0,169.7 806.5,172 C808.0,174.3 807.4,177.4 807.4,179.7 C807.4,181.9 806.6,184.5 806.5,185.5" class="dash"/>
<circle cx="806.5" cy="185.5" r="4" class="w"/>
<line x1="806.5" y1="185.5" x2="791.75" y2="185.5" class="w"/>
<path d="M806.5,185.5 C806.2,186.8 803.9,190.0 804.5,193.2 C805.1,196.4 808.0,202.6 810.3,204.8 C812.5,207.0 815.2,206.4 818,206.4 C820.8,206.4 825.3,205.1 826.8,204.8" class="dash"/>
<path d="M826.8,204.8 C830.2,203.7 840.1,199.3 847,198 C853.9,196.7 861.0,195.5 868.4,197 C875.8,198.5 885.5,202.9 891.6,206.8 C897.7,210.7 902.5,216.3 905.2,220.3 C907.9,224.3 907.5,229.2 908,231" class="dash"/>
<circle cx="826.8" cy="151.2" r="3.3" class="dot"/>
<circle cx="946.8" cy="151.2" r="3.3" class="dot"/>
<circle cx="826.8" cy="204.8" r="3.3" class="dot"/>
<circle cx="946.8" cy="204.8" r="3.3" class="dot"/>
<path d="M384.2,652.9 C385.9,649.7 389.3,638.9 394.5,633.5 C399.7,628.1 407.7,623.3 415.2,620.6 C422.7,617.9 430.7,616.6 439.7,617.3 C448.7,617.9 461.4,620.9 469.4,624.5 C477.3,628.1 483.6,634.0 487.4,638.7 C491.2,643.4 491.3,650.5 492.1,652.9" class="dash"/>
<path d="M492.1,652.9 C492.4,655.3 494.7,661.7 493.9,667.1 C493.1,672.5 490.6,680.1 487.4,685.2 C484.2,690.4 479.6,694.4 474.5,698 C469.4,701.6 461.2,705.1 456.5,707.1 C451.8,709.1 447.8,709.3 446,709.7" class="dash"/>
<path d="M384.2,652.9 C384.2,657.0 385.9,667.7 384.2,677.4 C382.5,687.1 379.1,700.5 373.9,711 C368.7,721.5 360.9,732.0 353.2,740.6 C345.4,749.2 334.1,755.9 327.4,762.6 C320.7,769.3 316.1,773.7 313.2,780.6 C310.3,787.5 310.4,800.0 309.9,803.9" class="dash"/>
<path d="M318.4,811.6 C321.6,812.2 329.8,816.3 337.7,815 C345.6,813.7 359.2,808.8 366.1,803.9 C373.0,799.0 376.0,791.4 379,785.8 C382.0,780.2 383.3,772.9 384.2,770.3" class="dash"/>
<path d="M384.2,770.3 C389.4,773.8 407.5,784.5 415.2,791 C422.9,797.5 427.3,802.8 430.6,809 C433.9,815.2 434.3,825.2 435,828.4" class="dash"/>
<circle cx="435" cy="828.4" r="4" class="w"/>
<line x1="435" y1="828.4" x2="435" y2="843.1" class="w"/>
<path d="M435,828.4 C438.6,828.6 448.6,832.1 456.5,829.7 C464.4,827.3 476.3,820.7 482.3,814.2 C488.3,807.8 491.0,798.3 492.6,791 C494.2,783.7 492.2,773.8 492.1,770.3" class="dash"/>
<path d="M492.1,770.3 C495.6,768.9 507.1,763.3 513.2,762 C519.3,760.7 524.6,761.5 528.7,762.6 C532.8,763.7 536.2,767.5 537.7,768.5" class="dash"/>
<circle cx="537.7" cy="768.5" r="4" class="w"/>
<line x1="537.7" y1="768.5" x2="553.2" y2="768.5" class="w"/>
<path d="M537.7,768.5 C537.6,764.5 536.6,751.1 537,744.5 C537.4,737.9 539.1,733.3 540.3,729 C541.5,724.7 543.6,720.4 544.2,718.7" class="dash"/>
<path d="M544.2,718.7 C541.2,718.7 530.8,721.3 526.1,718.7 C521.4,716.1 517.1,708.4 515.8,703.2 C514.5,698.0 515.4,691.8 518.4,687.7 C521.4,683.6 531.3,680.2 533.9,678.7" class="dash"/>
<path d="M432.6,709.3 L402.8,705.3 A5.2,5.2 0 0 0 402.8,715.7 L432.6,711.7" class="w"/>
<path d="M442.6,709.3 L472.40000000000003,705.3 A5.2,5.2 0 0 1 472.40000000000003,715.7 L442.6,711.7" class="w"/>
<circle cx="437.6" cy="710.5" r="5" class="wf"/>
<circle cx="384.2" cy="652.9" r="3.3" class="dot"/>
<circle cx="492.1" cy="652.9" r="3.3" class="dot"/>
<circle cx="384.2" cy="770.3" r="3.3" class="dot"/>
<circle cx="492.1" cy="770.3" r="3.3" class="dot"/>
<path d="M337.5,866 C335.8,867.0 329.4,869.7 327.5,872 C325.6,874.3 325.4,877.4 326.25,880 C327.1,882.6 331.5,886.2 332.5,887.5" class="dash"/>
<path d="M365,890.5 C367.5,887.1 372.5,874.7 380,870 C387.5,865.3 401.5,862.5 410,862.5 C418.5,862.5 427.7,868.8 431.25,870" class="dash"/>
<path d="M431.25,870 C429.8,871.7 423.5,877.1 422.5,880 C421.5,882.9 423.5,885.8 425,887.5 C426.5,889.2 430.2,890.0 431.25,890.5" class="dash"/>
<path d="M431.25,890.5 C436.0,889.2 450.2,883.4 460,882.5 C469.8,881.6 482.9,883.7 490,885 C497.1,886.3 500.4,889.6 502.5,890.5" class="dash"/>
<path d="M503.2,890.3 C502.3,893.6 499.1,903.7 498,910.3 C496.9,916.9 495.5,922.2 496.8,929.7 C498.1,937.2 501.1,948.6 505.8,955.5 C510.5,962.4 521.1,967.9 525.2,971 C529.3,974.1 529.4,973.7 530.3,974.2" class="dash"/>
<circle cx="530.3" cy="974.2" r="4" class="w"/>
<line x1="530.3" y1="974.2" x2="545.5" y2="974.2" class="w"/>
<path d="M529.7,922 C527.9,924.8 520.1,934.0 518.7,938.7 C517.3,943.4 519.1,946.6 521.3,950.3 C523.4,953.9 529.9,958.9 531.6,960.6" class="dash"/>
<path d="M365,890.5 C365.8,894.2 369.0,902.6 370,912.5 C371.0,922.4 371.5,937.5 371.25,950 C371.0,962.5 369.8,977.5 368.75,987.5 C367.7,997.5 365.6,1006.2 365,1010" class="dash"/>
<path d="M439.5,1008.8 L409.7,1004.8 A5.2,5.2 0 0 0 409.7,1015.2 L439.5,1011.2" class="w"/>
<path d="M449.5,1008.8 L479.3,1004.8 A5.2,5.2 0 0 1 479.3,1015.2 L449.5,1011.2" class="w"/>
<circle cx="444.5" cy="1010" r="5" class="wf"/>
<path d="M444.5,1010 C445.0,1007.5 442.8,999.0 447.5,995 C452.2,991.0 465.0,986.4 472.5,986 C480.0,985.6 487.5,988.5 492.5,992.5 C497.5,996.5 500.8,1007.1 502.5,1010" class="dash"/>
<path d="M365,1010 C363.8,1012.5 359.4,1016.2 357.5,1025 C355.6,1033.8 353.8,1050.8 353.75,1062.5 C353.8,1074.2 355.6,1086.2 357.5,1095 C359.4,1103.8 363.8,1112.1 365,1115.5" class="dash"/>
<path d="M502.5,1010 C501.7,1012.5 499.4,1016.2 497.5,1025 C495.6,1033.8 491.7,1050.8 491.25,1062.5 C490.8,1074.2 493.1,1086.2 495,1095 C496.9,1103.8 501.2,1112.1 502.5,1115.5" class="dash"/>
<path d="M365,1115.5 C367.5,1114.2 374.2,1109.5 380,1107.5 C385.8,1105.5 393.3,1103.8 400,1103.75 C406.7,1103.8 414.7,1105.5 420,1107.5 C425.3,1109.5 429.8,1114.2 431.75,1115.5" class="dash"/>
<path d="M431.75,1115.5 C435.6,1117.5 446.5,1124.0 455,1127.5 C463.5,1131.0 472.9,1135.8 482.5,1136.25 C492.1,1136.7 504.6,1132.2 512.5,1130 C520.4,1127.8 527.1,1124.2 530,1123" class="dash"/>
<circle cx="530" cy="1123" r="4" class="w"/>
<line x1="530" y1="1123" x2="545.5" y2="1123" class="w"/>
<path d="M502.5,1115.5 C504.6,1115.2 511.2,1113.4 515,1113.75 C518.8,1114.1 522.5,1116.0 525,1117.5 C527.5,1119.0 529.2,1122.1 530,1123" class="dash"/>
<path d="M365,1115.5 C362.1,1117.1 353.3,1122.0 347.5,1125 C341.7,1128.0 335.1,1132.1 330,1133.75 C324.9,1135.4 319.2,1134.7 317.1,1134.9" class="dash"/>
<circle cx="365" cy="890.5" r="3.3" class="dot"/>
<circle cx="431.25" cy="890.5" r="3.3" class="dot"/>
<circle cx="502.5" cy="890.5" r="3.3" class="dot"/>
<circle cx="365" cy="1010" r="3.3" class="dot"/>
<circle cx="502.5" cy="1010" r="3.3" class="dot"/>
<circle cx="365" cy="1115.5" r="3.3" class="dot"/>
<circle cx="431.75" cy="1115.5" r="3.3" class="dot"/>
<circle cx="502.5" cy="1115.5" r="3.3" class="dot"/>
<path d="M272.5,1031.25 C272.1,1029.8 269.6,1025.4 270,1022.5 C270.4,1019.6 271.7,1015.6 275,1013.75 C278.3,1011.9 286.8,1010.4 290,1011.25 C293.2,1012.1 293.8,1017.5 294.5,1018.75" class="dash"/>
<circle cx="294.5" cy="1018.75" r="4" class="w"/>
<line x1="294.5" y1="1018.75" x2="294.5" y2="1004.7" class="w"/>
<path d="M294.5,1018.75 C296.2,1018.3 301.6,1015.6 305,1016.25 C308.4,1016.9 312.9,1020.0 315,1022.5 C317.1,1025.0 317.1,1029.8 317.5,1031.25" class="dash"/>
<path d="M317.5,1031.25 C315.4,1034.4 307.5,1043.5 305,1050 C302.5,1056.5 301.2,1063.8 302.5,1070 C303.8,1076.2 308.9,1083.1 312.5,1087.5 C316.1,1091.9 322.1,1094.8 324,1096.25" class="dash"/>
<path d="M272.4,1031.2 C270.8,1032.7 266.1,1035.8 262.6,1040.2 C259.1,1044.6 254.1,1051.0 251.3,1057.7 C248.5,1064.4 246.3,1071.3 245.6,1080.3 C244.9,1089.3 245.6,1103.5 246.9,1111.7 C248.2,1119.9 252.1,1126.3 253.2,1129.2" class="dash"/>
<path d="M259.5,1129.2 C260.4,1129.2 262.9,1128.5 265,1129.5 C267.1,1130.5 271.2,1134.2 272.4,1135.2" class="dash"/>
<path d="M272.4,1135.2 C271.4,1136.5 267.2,1139.2 266.3,1143 C265.4,1146.8 266.4,1154.7 267,1158 C267.6,1161.3 269.5,1162.2 270,1163" class="dash"/>
<path d="M280.1,1161.8 C280.9,1159.3 282.6,1150.8 285.1,1146.8 C287.6,1142.8 291.4,1140.1 295.2,1138 C299.0,1135.9 304.0,1134.7 307.7,1134.2 C311.4,1133.7 315.5,1134.8 317.1,1134.9" class="dash"/>
<circle cx="272.5" cy="1031.25" r="3.3" class="dot"/>
<circle cx="317.5" cy="1031.25" r="3.3" class="dot"/>
<circle cx="272.4" cy="1135.2" r="3.3" class="dot"/>
<circle cx="317.1" cy="1134.9" r="3.3" class="dot"/>
<circle cx="345.5" cy="1192" r="4" class="w"/>
<line x1="345.5" y1="1192" x2="345.5" y2="1177.5" class="w"/>
<circle cx="536.25" cy="1192" r="4" class="w"/>
<line x1="536.25" y1="1192" x2="536.25" y2="1177.5" class="w"/>
<path d="M345.5,1192 C342.9,1192.9 335.1,1193.2 330,1197.5 C324.9,1201.8 318.2,1211.0 315,1217.5 C311.8,1224.0 311.2,1233.1 310.5,1236.25" class="dash"/>
<path d="M345.5,1192 C347.5,1195.8 351.8,1207.8 357.5,1215 C363.2,1222.2 370.4,1229.6 380,1235 C389.6,1240.4 404.2,1245.6 415,1247.5 C425.8,1249.4 435.6,1248.1 445,1246.25 C454.4,1244.4 466.9,1237.9 471.25,1236.25" class="dash"/>
<path d="M471.25,1236.25 C474.4,1232.3 483.5,1218.5 490,1212.5 C496.5,1206.5 502.3,1203.4 510,1200 C517.7,1196.6 531.9,1193.3 536.25,1192" class="dash"/>
<path d="M536.25,1192 C538.5,1196.2 544.4,1211.0 550,1217.5 C555.6,1224.0 562.1,1227.7 570,1231.25 C577.9,1234.8 589.4,1237.9 597.5,1238.75 C605.6,1239.6 615.2,1236.7 618.75,1236.25" class="dash"/>
<path d="M618.75,1236.25 C618.8,1241.0 618.1,1255.6 618.75,1265 C619.4,1274.4 619.0,1284.2 622.5,1292.5 C626.0,1300.8 632.9,1309.2 640,1315 C647.1,1320.8 660.8,1325.0 665,1327" class="dash"/>
<path d="M672.5,1225 C670.4,1229.2 662.9,1241.7 660,1250 C657.1,1258.3 655.0,1265.0 655,1275 C655.0,1285.0 657.2,1301.2 660,1310 C662.8,1318.8 670.0,1325.0 672,1328" class="dash"/>
<path d="M310.5,1236.25 C308.1,1243.7 300.9,1268.0 296,1281 C291.1,1294.0 285.1,1304.2 281,1314 C276.9,1323.8 272.9,1335.7 271.25,1340" class="dash"/>
<path d="M271.25,1348.25 C272.3,1349.4 273.5,1353.0 277.5,1355 C281.5,1357.0 289.5,1359.7 295,1360 C300.5,1360.3 307.9,1357.5 310.5,1357" class="dash"/>
<path d="M310.5,1357 C312.1,1362.1 318.0,1377.8 320,1387.5 C322.0,1397.2 322.9,1405.8 322.5,1415 C322.1,1424.2 319.5,1434.2 317.5,1442.5 C315.5,1450.8 311.7,1461.2 310.5,1465" class="dash"/>
<path d="M310.5,1465 C315.4,1467.9 326.8,1477.9 340,1482.5 C353.2,1487.1 373.3,1492.5 390,1492.5 C406.7,1492.5 426.5,1487.1 440,1482.5 C453.5,1477.9 466.0,1467.9 471.25,1465" class="dash"/>
<path d="M471.25,1465 C476.5,1463.3 489.4,1457.5 502.5,1455 C515.6,1452.5 535.8,1449.8 550,1450 C564.2,1450.2 576.0,1453.7 587.5,1456.25 C599.0,1458.8 613.5,1464.0 618.75,1465.5" class="dash"/>
<path d="M460.75,1348.8 L430.95,1344.8 A5.2,5.2 0 0 0 430.95,1355.2 L460.75,1351.2" class="w"/>
<path d="M470.75,1348.8 L500.55,1344.8 A5.2,5.2 0 0 1 500.55,1355.2 L470.75,1351.2" class="w"/>
<circle cx="465.75" cy="1350" r="5" class="wf"/>
<path d="M465.75,1350 C469.8,1353.3 479.7,1364.6 490,1370 C500.3,1375.4 517.5,1380.2 527.5,1382.5 C537.5,1384.8 540.0,1385.0 550,1383.75 C560.0,1382.5 577.1,1379.0 587.5,1375 C597.9,1371.0 607.3,1362.9 612.5,1360 C617.7,1357.1 617.7,1357.9 618.75,1357.5" class="dash"/>
<path d="M618.75,1357.5 C620.6,1362.5 627.5,1378.8 630,1387.5 C632.5,1396.2 634.2,1401.2 633.75,1410 C633.3,1418.8 630.0,1430.8 627.5,1440 C625.0,1449.2 620.2,1461.2 618.75,1465.5" class="dash"/>
<circle cx="310.5" cy="1236.25" r="3.3" class="dot"/>
<circle cx="471.25" cy="1236.25" r="3.3" class="dot"/>
<circle cx="618.75" cy="1236.25" r="3.3" class="dot"/>
<circle cx="310.5" cy="1357" r="3.3" class="dot"/>
<circle cx="618.75" cy="1357.5" r="3.3" class="dot"/>
<circle cx="310.5" cy="1465" r="3.3" class="dot"/>
<circle cx="471.25" cy="1465" r="3.3" class="dot"/>
<circle cx="618.75" cy="1465.5" r="3.3" class="dot"/>
<path d="M738,1218.75 C744.2,1216.9 763.8,1209.2 775,1207.5 C786.2,1205.8 796.7,1207.5 805,1208.75 C813.3,1210.0 819.8,1213.3 825,1215 C830.2,1216.7 834.4,1218.1 836.25,1218.75" class="dash"/>
<path d="M836.25,1218.75 C837.5,1214.8 843.3,1200.0 843.75,1195 C844.2,1190.0 839.6,1189.8 838.75,1188.75" class="dash"/>
<path d="M840,1177.5 C845.4,1176.5 860.4,1170.8 872.5,1171.25 C884.6,1171.7 901.7,1174.4 912.5,1180 C923.3,1185.6 932.2,1198.5 937.5,1205 C942.8,1211.5 943.1,1216.5 944.25,1218.75" class="dash"/>
<path d="M944.25,1218.75 C943.8,1220.6 940.3,1225.8 941.25,1230 C942.2,1234.2 946.9,1241.2 950,1243.75 C953.1,1246.2 957.2,1245.2 960,1245 C962.8,1244.8 965.8,1242.9 967,1242.5" class="dash"/>
<circle cx="967" cy="1242.5" r="4" class="w"/>
<line x1="967" y1="1242.5" x2="982.5" y2="1242.5" class="w"/>
<path d="M967,1242.5 C968.3,1245.8 973.5,1255.0 975,1262.5 C976.5,1270.0 976.9,1281.2 976.25,1287.5 C975.6,1293.8 974.0,1294.6 971.25,1300 C968.5,1305.4 964.6,1314.6 960,1320 C955.4,1325.4 946.5,1330.4 943.75,1332.5" class="dash"/>
<path d="M738,1218.75 C739.0,1221.9 743.4,1230.6 743.75,1237.5 C744.1,1244.4 743.1,1254.2 740,1260 C736.9,1265.8 730.0,1269.6 725,1272.5 C720.0,1275.4 712.5,1276.7 710,1277.5" class="dash"/>
<path d="M705,1220 C708.3,1223.8 721.7,1235.0 725,1242.5 C728.3,1250.0 727.1,1259.2 725,1265 C722.9,1270.8 714.6,1275.4 712.5,1277.5" class="dash"/>
<path d="M834.25,1333.05 L804.45,1329.05 A5.2,5.2 0 0 0 804.45,1339.45 L834.25,1335.45" class="w"/>
<path d="M844.25,1333.05 L874.05,1329.05 A5.2,5.2 0 0 1 874.05,1339.45 L844.25,1335.45" class="w"/>
<circle cx="839.25" cy="1334.25" r="5" class="wf"/>
<path d="M738,1332.5 C740.0,1333.3 742.2,1335.4 750,1337.5 C757.8,1339.6 774.2,1344.4 785,1345 C795.8,1345.6 807.1,1342.7 815,1341.25 C822.9,1339.8 829.6,1337.1 832.5,1336.25" class="dash"/>
<path d="M738,1332.5 C736.2,1337.5 729.9,1351.2 727.5,1362.5 C725.1,1373.8 723.5,1388.8 723.75,1400 C724.0,1411.2 726.4,1422.0 728.75,1430 C731.1,1438.0 736.5,1445.0 738,1448" class="dash"/>
<path d="M738,1448 C742.1,1446.5 754.2,1440.6 762.5,1438.75 C770.8,1436.9 778.3,1436.6 787.5,1437 C796.7,1437.4 809.4,1439.4 817.5,1441.25 C825.6,1443.1 833.1,1446.9 836.25,1448" class="dash"/>
<path d="M836.25,1448 C838.5,1448.2 839.4,1449.2 850,1449.5 C860.6,1449.8 884.4,1450.2 900,1450 C915.6,1449.8 936.5,1448.3 943.75,1448" class="dash"/>
<path d="M943.75,1448 C944.8,1445.4 947.3,1436.1 950,1432.5 C952.7,1428.9 957.2,1427.5 960,1426.25 C962.8,1425.0 965.8,1425.2 967,1425" class="dash"/>
<circle cx="967" cy="1425" r="4" class="w"/>
<line x1="967" y1="1425" x2="982.5" y2="1425" class="w"/>
<path d="M943.75,1332.5 C943.1,1335.4 940.6,1340.8 940,1350 C939.4,1359.2 937.9,1377.1 940,1387.5 C942.1,1397.9 948.0,1406.2 952.5,1412.5 C957.0,1418.8 964.6,1422.9 967,1425" class="dash"/>
<path d="M943.75,1448 C943.3,1450.8 941.0,1458.0 941.25,1465 C941.5,1472.0 941.9,1482.9 945,1490 C948.1,1497.1 955.9,1502.8 960,1507.5 C964.1,1512.2 967.9,1516.5 969.5,1518.25" class="dash"/>
<path d="M775,1463 C775.0,1464.2 774.6,1467.2 775,1470 C775.4,1472.8 775.4,1477.5 777.5,1480 C779.6,1482.5 784.0,1484.2 787.5,1485 C791.0,1485.8 796.5,1485.0 798.25,1485" class="dash"/>
<circle cx="738" cy="1218.75" r="3.3" class="dot"/>
<circle cx="836.25" cy="1218.75" r="3.3" class="dot"/>
<circle cx="944.25" cy="1218.75" r="3.3" class="dot"/>
<circle cx="738" cy="1332.5" r="3.3" class="dot"/>
<circle cx="943.75" cy="1332.5" r="3.3" class="dot"/>
<circle cx="738" cy="1448" r="3.3" class="dot"/>
<circle cx="836.25" cy="1448" r="3.3" class="dot"/>
<circle cx="943.75" cy="1448" r="3.3" class="dot"/>
<path d="M969.5,1518.25 C970.8,1521.5 975.8,1531.0 977.5,1537.5 C979.2,1544.0 980.4,1551.2 980,1557.5 C979.6,1563.8 976.8,1570.9 975,1575 C973.2,1579.1 970.4,1580.8 969.5,1582" class="dash"/>
<path d="M969.5,1582 C967.9,1582.9 961.4,1585.2 960,1587.5 C958.6,1589.8 961.0,1594.2 961.25,1595.5" class="dash"/>
<path d="M961.25,1595.5 C959.4,1595.8 956.0,1597.0 950,1597.5 C944.0,1598.0 932.5,1599.6 925,1598.75 C917.5,1597.9 910.8,1595.3 905,1592.5 C899.2,1589.7 892.9,1583.8 890.5,1582" class="dash"/>
<path d="M890.5,1582 C888.8,1582.9 883.0,1587.8 880,1587.5 C877.0,1587.2 873.8,1581.2 872.5,1580" class="dash"/>
<path d="M872.5,1566 C873.8,1567.1 877.7,1572.7 880,1572.5 C882.3,1572.3 885.4,1567.1 886.25,1565 C887.1,1562.9 885.2,1560.8 885,1560" class="dash"/>
<circle cx="885" cy="1560" r="4" class="w"/>
<line x1="885" y1="1560" x2="870.75" y2="1560" class="w"/>
<path d="M885,1560 C885.0,1558.3 885.4,1554.2 885,1550 C884.6,1545.8 882.1,1539.6 882.5,1535 C882.9,1530.4 886.2,1525.3 887.5,1522.5 C888.8,1519.7 890.0,1519.0 890.5,1518.25" class="dash"/>
<path d="M890.5,1518.25 C892.5,1519.4 898.4,1524.7 902.5,1525 C906.6,1525.3 912.5,1522.9 915,1520 C917.5,1517.1 917.3,1510.5 917.5,1507.5 C917.7,1504.5 916.5,1502.9 916.25,1502" class="dash"/>
<circle cx="890.5" cy="1518.25" r="3.3" class="dot"/>
<circle cx="969.5" cy="1518.25" r="3.3" class="dot"/>
<circle cx="890.5" cy="1582" r="3.3" class="dot"/>
<circle cx="969.5" cy="1582" r="3.3" class="dot"/>
<path d="M595,1029.25 C600.0,1026.2 615.8,1014.5 625,1011.25 C634.2,1008.0 640.8,1008.8 650,1010 C659.2,1011.2 671.8,1015.5 680,1018.75 C688.2,1022.0 696.0,1027.5 699.25,1029.25" class="dash"/>
<path d="M699.25,1029.25 C703.5,1030.6 715.3,1034.9 725,1037.5 C734.7,1040.1 745.0,1044.6 757.5,1045 C770.0,1045.4 787.5,1044.2 800,1040 C812.5,1035.8 826.0,1024.1 832.5,1020 C839.0,1015.9 837.7,1016.2 838.75,1015.5" class="dash"/>
<path d="M838.75,1015.5 C840.6,1014.6 841.9,1010.9 850,1010 C858.1,1009.1 875.0,1007.9 887.5,1010 C900.0,1012.1 914.6,1016.7 925,1022.5 C935.4,1028.3 943.8,1037.1 950,1045 C956.2,1052.9 959.7,1063.5 962.5,1070 C965.3,1076.5 966.2,1081.5 967,1083.75" class="dash"/>
<circle cx="967" cy="1083.75" r="4" class="w"/>
<line x1="967" y1="1083.75" x2="982.5" y2="1083.75" class="w"/>
<path d="M967,1083.75 C960.0,1081.0 940.3,1071.9 925,1067.5 C909.7,1063.1 889.6,1059.4 875,1057.5 C860.4,1055.6 852.1,1055.0 837.5,1056.25 C822.9,1057.5 802.5,1060.8 787.5,1065 C772.5,1069.2 759.6,1075.4 747.5,1081.25 C735.4,1087.1 723.0,1094.9 715,1100 C707.0,1105.1 701.9,1109.8 699.25,1111.75" class="dash"/>
<path d="M595,1029.25 C594.2,1032.7 590.8,1041.5 590,1050 C589.2,1058.5 589.4,1070.8 590,1080 C590.6,1089.2 592.9,1099.7 593.75,1105 C594.6,1110.3 594.8,1110.6 595,1111.75" class="dash"/>
<path d="M699.25,1111.75 C698.5,1113.5 695.9,1117.8 695,1122.5 C694.1,1127.2 692.5,1135.4 693.75,1140 C695.0,1144.6 701.0,1148.3 702.5,1150" class="dash"/>
<path d="M705,1147.5 C705.8,1146.0 707.1,1140.2 710,1138.75 C712.9,1137.3 719.4,1137.3 722.5,1138.75 C725.6,1140.2 727.7,1146.0 728.75,1147.5" class="dash"/>
<circle cx="595" cy="1029.25" r="3.3" class="dot"/>
<circle cx="699.25" cy="1029.25" r="3.3" class="dot"/>
<circle cx="595" cy="1111.75" r="3.3" class="dot"/>
<circle cx="699.25" cy="1111.75" r="3.3" class="dot"/>
<text x="330" y="394.1" font-size="8.6" text-anchor="middle" class="t" >TO GF DB</text>
<text x="572.5" y="576.6" font-size="8.6" text-anchor="middle" class="t" >TO GF DB</text>
<text x="740.5" y="587.1" font-size="8.6" text-anchor="middle" class="t" >TO GF DB</text>
<text x="738" y="279.6" font-size="8.6" text-anchor="middle" class="t" >TO GF DB</text>
<text x="538.4" y="674.6" font-size="8.6" text-anchor="middle" class="t" >TO GF DB</text>
<text x="338" y="863.1" font-size="8.6" text-anchor="middle" class="t" >TO GF DB</text>
<text x="537" y="918.6" font-size="8.6" text-anchor="middle" class="t" >TO GF DB</text>
<text x="717.5" y="994.6" font-size="8.6" text-anchor="middle" class="t" >TO GF DB</text>
<text x="816.25" y="975.6" font-size="8.6" text-anchor="middle" class="t" >TO GF DB</text>
<text x="685" y="1218.6" font-size="8.6" text-anchor="middle" class="t" >TO GF DB</text>
<text x="777.5" y="1460.1" font-size="8.6" text-anchor="middle" class="t" >TO GF DB</text>
<g transform="translate(438.3,194.5) rotate(90)"><rect x="-5.5" y="-4.5" width="11" height="9" fill="#000" stroke="#000" stroke-width="0.8"/><line x1="-4" y1="-3" x2="4" y2="-3" stroke="#ddd" stroke-width="0.6"/><line x1="0" y1="-2" x2="0" y2="3.5" stroke="#ddd" stroke-width="0.6"/><line x1="-2.5" y1="-1" x2="-2.5" y2="1.5" stroke="#fff" stroke-width="0.9"/><line x1="2.5" y1="-1" x2="2.5" y2="1.5" stroke="#fff" stroke-width="0.9"/></g>
<text x="446.7" y="201" font-size="7" text-anchor="middle" dy="2.5" transform="rotate(90 446.7 201)">56"</text>
<g transform="translate(518.4,598) rotate(0)"><rect x="-5.5" y="-4.5" width="11" height="9" fill="#000" stroke="#000" stroke-width="0.8"/><line x1="-4" y1="-3" x2="4" y2="-3" stroke="#ddd" stroke-width="0.6"/><line x1="0" y1="-2" x2="0" y2="3.5" stroke="#ddd" stroke-width="0.6"/><line x1="-2.5" y1="-1" x2="-2.5" y2="1.5" stroke="#fff" stroke-width="0.9"/><line x1="2.5" y1="-1" x2="2.5" y2="1.5" stroke="#fff" stroke-width="0.9"/></g>
<text x="523" y="589" font-size="7" text-anchor="middle" dy="2.5" transform="rotate(0 523 589)">56"</text>
<g transform="translate(531,601.75) rotate(0)"><path d="M-4,0 A4,4 0 0 1 4,0" fill="none" stroke="#000" stroke-width="1"/><line x1="0" y1="-4" x2="0" y2="-9" stroke="#000" stroke-width="1"/></g>
<g transform="translate(778,598) rotate(0)"><rect x="-5.5" y="-4.5" width="11" height="9" fill="#000" stroke="#000" stroke-width="0.8"/><line x1="-4" y1="-3" x2="4" y2="-3" stroke="#ddd" stroke-width="0.6"/><line x1="0" y1="-2" x2="0" y2="3.5" stroke="#ddd" stroke-width="0.6"/><line x1="-2.5" y1="-1" x2="-2.5" y2="1.5" stroke="#fff" stroke-width="0.9"/><line x1="2.5" y1="-1" x2="2.5" y2="1.5" stroke="#fff" stroke-width="0.9"/></g>
<text x="783" y="588.75" font-size="7" text-anchor="middle" dy="2.5" transform="rotate(0 783 588.75)">56"</text>
<g transform="translate(791,601.75) rotate(0)"><path d="M-4,0 A4,4 0 0 1 4,0" fill="none" stroke="#000" stroke-width="1"/><line x1="0" y1="-4" x2="0" y2="-9" stroke="#000" stroke-width="1"/></g>
<g transform="translate(897,232) rotate(0)"><rect x="-5.5" y="-4.5" width="11" height="9" fill="#000" stroke="#000" stroke-width="0.8"/><line x1="-4" y1="-3" x2="4" y2="-3" stroke="#ddd" stroke-width="0.6"/><line x1="0" y1="-2" x2="0" y2="3.5" stroke="#ddd" stroke-width="0.6"/><line x1="-2.5" y1="-1" x2="-2.5" y2="1.5" stroke="#fff" stroke-width="0.9"/><line x1="2.5" y1="-1" x2="2.5" y2="1.5" stroke="#fff" stroke-width="0.9"/></g>
<text x="902.5" y="223" font-size="7" text-anchor="middle" dy="2.5" transform="rotate(0 902.5 223)">56"</text>
<g transform="translate(908,236.25) rotate(0)"><path d="M-4,0 A4,4 0 0 1 4,0" fill="none" stroke="#000" stroke-width="1"/><line x1="0" y1="-4" x2="0" y2="-9" stroke="#000" stroke-width="1"/></g>
<g transform="translate(548.7,706.5) rotate(90)"><rect x="-5.5" y="-4.5" width="11" height="9" fill="#000" stroke="#000" stroke-width="0.8"/><line x1="-4" y1="-3" x2="4" y2="-3" stroke="#ddd" stroke-width="0.6"/><line x1="0" y1="-2" x2="0" y2="3.5" stroke="#ddd" stroke-width="0.6"/><line x1="-2.5" y1="-1" x2="-2.5" y2="1.5" stroke="#fff" stroke-width="0.9"/><line x1="2.5" y1="-1" x2="2.5" y2="1.5" stroke="#fff" stroke-width="0.9"/></g>
<text x="540.3" y="712.3" font-size="7" text-anchor="middle" dy="2.5" transform="rotate(90 540.3 712.3)">56"</text>
<g transform="translate(553.2,718) rotate(-90)"><path d="M-4,0 A4,4 0 0 1 4,0" fill="none" stroke="#000" stroke-width="1"/><line x1="0" y1="-4" x2="0" y2="-9" stroke="#000" stroke-width="1"/></g>
<g transform="translate(541.3,948.7) rotate(90)"><rect x="-5.5" y="-4.5" width="11" height="9" fill="#000" stroke="#000" stroke-width="0.8"/><line x1="-4" y1="-3" x2="4" y2="-3" stroke="#ddd" stroke-width="0.6"/><line x1="0" y1="-2" x2="0" y2="3.5" stroke="#ddd" stroke-width="0.6"/><line x1="-2.5" y1="-1" x2="-2.5" y2="1.5" stroke="#fff" stroke-width="0.9"/><line x1="2.5" y1="-1" x2="2.5" y2="1.5" stroke="#fff" stroke-width="0.9"/></g>
<text x="532.3" y="954.2" font-size="7" text-anchor="middle" dy="2.5" transform="rotate(90 532.3 954.2)">56"</text>
<g transform="translate(545.5,960) rotate(-90)"><path d="M-4,0 A4,4 0 0 1 4,0" fill="none" stroke="#000" stroke-width="1"/><line x1="0" y1="-4" x2="0" y2="-9" stroke="#000" stroke-width="1"/></g>
<g transform="translate(768,993) rotate(0)"><rect x="-5.5" y="-4.5" width="11" height="9" fill="#000" stroke="#000" stroke-width="0.8"/><line x1="-4" y1="-3" x2="4" y2="-3" stroke="#ddd" stroke-width="0.6"/><line x1="0" y1="-2" x2="0" y2="3.5" stroke="#ddd" stroke-width="0.6"/><line x1="-2.5" y1="-1" x2="-2.5" y2="1.5" stroke="#fff" stroke-width="0.9"/><line x1="2.5" y1="-1" x2="2.5" y2="1.5" stroke="#fff" stroke-width="0.9"/></g>
<text x="773.75" y="983.75" font-size="7" text-anchor="middle" dy="2.5" transform="rotate(0 773.75 983.75)">56"</text>
<g transform="translate(780,997) rotate(0)"><path d="M-4,0 A4,4 0 0 1 4,0" fill="none" stroke="#000" stroke-width="1"/><line x1="0" y1="-4" x2="0" y2="-9" stroke="#000" stroke-width="1"/></g>
<g transform="translate(693,1158.75) rotate(0)"><rect x="-5.5" y="-4.5" width="11" height="9" fill="#000" stroke="#000" stroke-width="0.8"/><line x1="-4" y1="-3" x2="4" y2="-3" stroke="#ddd" stroke-width="0.6"/><line x1="0" y1="-2" x2="0" y2="3.5" stroke="#ddd" stroke-width="0.6"/><line x1="-2.5" y1="-1" x2="-2.5" y2="1.5" stroke="#fff" stroke-width="0.9"/><line x1="2.5" y1="-1" x2="2.5" y2="1.5" stroke="#fff" stroke-width="0.9"/></g>
<text x="698.75" y="1150" font-size="7" text-anchor="middle" dy="2.5" transform="rotate(0 698.75 1150)">56"</text>
<g transform="translate(705,1162.5) rotate(0)"><path d="M-4,0 A4,4 0 0 1 4,0" fill="none" stroke="#000" stroke-width="1"/><line x1="0" y1="-4" x2="0" y2="-9" stroke="#000" stroke-width="1"/></g>
<g transform="translate(700.6,1273.75) rotate(90)"><rect x="-5.5" y="-4.5" width="11" height="9" fill="#000" stroke="#000" stroke-width="0.8"/><line x1="-4" y1="-3" x2="4" y2="-3" stroke="#ddd" stroke-width="0.6"/><line x1="0" y1="-2" x2="0" y2="3.5" stroke="#ddd" stroke-width="0.6"/><line x1="-2.5" y1="-1" x2="-2.5" y2="1.5" stroke="#fff" stroke-width="0.9"/><line x1="2.5" y1="-1" x2="2.5" y2="1.5" stroke="#fff" stroke-width="0.9"/></g>
<text x="708.75" y="1280" font-size="7" text-anchor="middle" dy="2.5" transform="rotate(-90 708.75 1280)">56"</text>
<g transform="translate(696.25,1285) rotate(90)"><path d="M-4,0 A4,4 0 0 1 4,0" fill="none" stroke="#000" stroke-width="1"/><line x1="0" y1="-4" x2="0" y2="-9" stroke="#000" stroke-width="1"/></g>
<g transform="translate(677,1318) rotate(90)"><rect x="-5.5" y="-4.5" width="11" height="9" fill="#000" stroke="#000" stroke-width="0.8"/><line x1="-4" y1="-3" x2="4" y2="-3" stroke="#ddd" stroke-width="0.6"/><line x1="0" y1="-2" x2="0" y2="3.5" stroke="#ddd" stroke-width="0.6"/><line x1="-2.5" y1="-1" x2="-2.5" y2="1.5" stroke="#fff" stroke-width="0.9"/><line x1="2.5" y1="-1" x2="2.5" y2="1.5" stroke="#fff" stroke-width="0.9"/></g>
<text x="668.75" y="1323.75" font-size="7" text-anchor="middle" dy="2.5" transform="rotate(90 668.75 1323.75)">56"</text>
<g transform="translate(681.75,1330) rotate(-90)"><path d="M-4,0 A4,4 0 0 1 4,0" fill="none" stroke="#000" stroke-width="1"/><line x1="0" y1="-4" x2="0" y2="-9" stroke="#000" stroke-width="1"/></g>
<g transform="translate(333,1087.5) rotate(90)"><rect x="-5.5" y="-4.5" width="11" height="9" fill="#000" stroke="#000" stroke-width="0.8"/><line x1="-4" y1="-3" x2="4" y2="-3" stroke="#ddd" stroke-width="0.6"/><line x1="0" y1="-2" x2="0" y2="3.5" stroke="#ddd" stroke-width="0.6"/><line x1="-2.5" y1="-1" x2="-2.5" y2="1.5" stroke="#fff" stroke-width="0.9"/><line x1="2.5" y1="-1" x2="2.5" y2="1.5" stroke="#fff" stroke-width="0.9"/></g>
<text x="322.5" y="1092.5" font-size="7" text-anchor="middle" dy="2.5" transform="rotate(90 322.5 1092.5)">56"</text>
<g transform="translate(336.5,1099) rotate(-90)"><path d="M-4,0 A4,4 0 0 1 4,0" fill="none" stroke="#000" stroke-width="1"/><line x1="0" y1="-4" x2="0" y2="-9" stroke="#000" stroke-width="1"/></g>
<g transform="translate(904.4,1502.5) rotate(0)"><rect x="-5.5" y="-4.5" width="11" height="9" fill="#000" stroke="#000" stroke-width="0.8"/><line x1="-4" y1="-3" x2="4" y2="-3" stroke="#ddd" stroke-width="0.6"/><line x1="0" y1="-2" x2="0" y2="3.5" stroke="#ddd" stroke-width="0.6"/><line x1="-2.5" y1="-1" x2="-2.5" y2="1.5" stroke="#fff" stroke-width="0.9"/><line x1="2.5" y1="-1" x2="2.5" y2="1.5" stroke="#fff" stroke-width="0.9"/></g>
<text x="910" y="1511.25" font-size="7" text-anchor="middle" dy="2.5" transform="rotate(0 910 1511.25)">56"</text>
<g transform="translate(916,1498.75) rotate(180)"><path d="M-4,0 A4,4 0 0 1 4,0" fill="none" stroke="#000" stroke-width="1"/><line x1="0" y1="-4" x2="0" y2="-9" stroke="#000" stroke-width="1"/></g>
<text x="795.25" y="266" font-size="8.6" text-anchor="middle" dy="3.1" textLength="67.5" lengthAdjust="spacingAndGlyphs" stroke="#000" stroke-width="0.25" transform="rotate(0 795.25 266)">AIR CONDITIONER</text>
<text x="864.75" y="982" font-size="8.6" text-anchor="middle" dy="3.1" textLength="67.5" lengthAdjust="spacingAndGlyphs" stroke="#000" stroke-width="0.25" transform="rotate(0 864.75 982)">AIR CONDITIONER</text>
<text x="837.9" y="1476" font-size="8.6" text-anchor="middle" dy="3.1" textLength="67.5" lengthAdjust="spacingAndGlyphs" stroke="#000" stroke-width="0.25" transform="rotate(0 837.9 1476)">AIR CONDITIONER</text>
<text x="332.75" y="473.25" font-size="8.6" text-anchor="middle" dy="3.1" textLength="67.5" lengthAdjust="spacingAndGlyphs" stroke="#000" stroke-width="0.25" transform="rotate(90 332.75 473.25)">AIR CONDITIONER</text>
<text x="332.75" y="927.25" font-size="8.6" text-anchor="middle" dy="3.1" textLength="67.5" lengthAdjust="spacingAndGlyphs" stroke="#000" stroke-width="0.25" transform="rotate(90 332.75 927.25)">AIR CONDITIONER</text>
<path d="M836,251.25 A5,5 0 0 0 846,251.25" fill="#000" transform="scale(1,1)"/>
<line x1="841" y1="251.25" x2="841" y2="261.25" stroke="#000" stroke-width="1"/>
<path d="M905,997 A5,5 0 0 1 915,997" fill="#000"/>
<line x1="910" y1="997" x2="910" y2="987" stroke="#000" stroke-width="1"/>
<path d="M879,1490.5 A5,5 0 0 1 889,1490.5" fill="#000"/>
<line x1="884" y1="1490.5" x2="884" y2="1480.5" stroke="#000" stroke-width="1"/>
<path d="M317.5,515 A5,5 0 0 1 317.5,525" fill="#000"/>
<line x1="317.5" y1="520" x2="327.5" y2="520" stroke="#000" stroke-width="1"/>
<path d="M317.5,969 A5,5 0 0 1 317.5,979" fill="#000"/>
<line x1="317.5" y1="974" x2="327.5" y2="974" stroke="#000" stroke-width="1"/>
<path d="M433.75,202.5 A4,4 0 0 1 433.75,210.5" fill="none" stroke="#000" stroke-width="1"/>
</svg></body></html>
